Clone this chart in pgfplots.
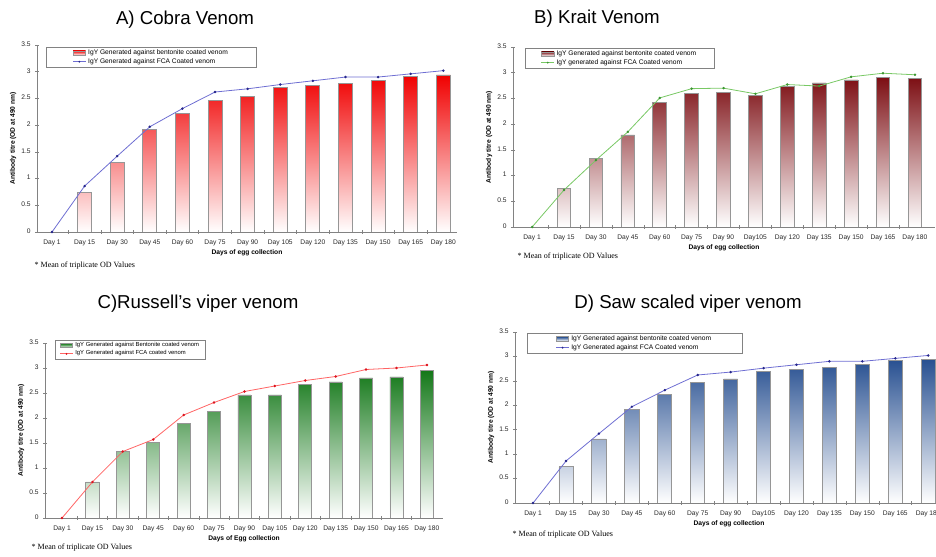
\documentclass[border=0pt]{standalone}
\usepackage{fontspec}
\setmainfont{Liberation Sans}
\newfontfamily\notefont{Liberation Serif}
\usepackage{pgfplots}
\pgfplotsset{compat=1.18}

\definecolor{cobra}{RGB}{240,0,0}
\definecolor{krait}{RGB}{125,15,20}
\definecolor{russ}{RGB}{20,120,25}
\definecolor{saw}{RGB}{40,80,145}
\definecolor{lineA}{RGB}{110,110,210}
\definecolor{markA}{RGB}{40,40,140}
\definecolor{lineB}{RGB}{120,200,100}
\definecolor{markB}{RGB}{60,150,50}
\definecolor{lineC}{RGB}{255,100,100}
\definecolor{markC}{RGB}{220,20,30}
\definecolor{axgray}{RGB}{130,130,130}
\definecolor{bargray}{RGB}{150,150,150}

\newcommand{\fs}[1]{\fontsize{#1}{#1}\selectfont}

\pgfplotsset{
 panel/.style={
  scale only axis, anchor=south west,
  ymin=0, ymax=3.5, ytick={0,0.5,...,3.5},
  xtick={0,...,12}, minor x tick num=1,
  axis lines*=left,
  axis line style={draw=axgray, line width=0.5pt},
  tick align=center, major tick length=2.5pt, minor tick length=2.5pt,
  major x tick style={draw=none},
  minor x tick style={draw=axgray, line width=0.4pt},
  ytick style={draw=axgray, line width=0.4pt},
  /pgf/number format/assume math mode=true,
  typeset ticklabels with strut,
  tick label style={font=\fs{5}, text=black!85},
  xticklabel style={yshift=-1pt},
  xlabel={Days of egg collection},
  ylabel={Antibody titre (OD at 490 nm)},
  label style={font=\bfseries\fs{5}},
  xlabel style={yshift=4.5pt},
  ylabel shift=-3pt,
  legend style={anchor=north west, draw=axgray, line width=0.4pt, font=\fs{5}, cells={anchor=west}, inner ysep=1pt, row sep=0pt, nodes={inner xsep=1.6pt, inner ysep=0.7pt}},
  legend image post style={scale=0.55},
 },
 bars/.style={ybar, bar width=0.43, draw=bargray, line width=0.6pt, bottom color=white, middle color=#1!58!white, top color=#1, area legend},
}

\begin{document}
\begin{tikzpicture}
\clip (0,0) rectangle (702pt,417.75pt);
\useasboundingbox (0,0) rectangle (702pt,417.75pt);

% ---------- A ----------
\node[font=\fs{14}] at (138.75pt,403pt) {A) Cobra Venom};
\begin{axis}[panel, at={(27.75pt,243.75pt)}, width=315pt, height=140.25pt,
  xmin=-0.46, xmax=12.42,
  xticklabels={Day 1,Day 15,Day 30,Day 45,Day 60,Day 75,Day 90,Day 105,Day 120,Day 135,Day 150,Day 165,Day 180},
  legend style={at={(0.021,0.989)}, inner xsep=20pt}]
\addplot[bars=cobra] coordinates {(1,0.74) (2,1.31) (3,1.92) (4,2.22) (5,2.46) (6,2.54) (7,2.70) (8,2.74) (9,2.78) (10,2.84) (11,2.91) (12,2.94)};
\addlegendentry{IgY Generated against bentonite coated venom}
\addplot[lineA, line width=0.6pt, mark=*, mark size=0.6pt, mark options={draw=markA, fill=markA}] coordinates {(0,0) (1,0.86) (2,1.42) (3,1.97) (4,2.31) (5,2.62) (6,2.68) (7,2.76) (8,2.83) (9,2.90) (10,2.90) (11,2.96) (12,3.02)};
\addlegendentry{IgY Generated against FCA Coated venom}
\end{axis}
\node[anchor=west, font=\notefont\fs{6}] at (22.5pt,218.25pt) {* Mean of triplicate OD Values};

% ---------- B ----------
\node[font=\fs{14}] at (447.75pt,403.5pt) {B) Krait Venom};
\begin{axis}[panel, at={(384.75pt,247.5pt)}, width=316.5pt, height=135pt,
  xmin=-0.6, xmax=12.63,
  xticklabels={Day 1,Day 15,Day 30,Day 45,Day 60,Day 75,Day 90,Day105,Day 120,Day 135,Day 150,Day 165,Day 180},
  legend style={at={(0.028,0.994)}, inner xsep=12pt}]
\addplot[bars=krait] coordinates {(1,0.745) (2,1.34) (3,1.79) (4,2.42) (5,2.60) (6,2.61) (7,2.55) (8,2.73) (9,2.80) (10,2.86) (11,2.90) (12,2.89)};
\addlegendentry{IgY Generated against bentonite coated venom}
\addplot[lineB, line width=0.6pt, mark=*, mark size=0.6pt, mark options={draw=markB, fill=markB}] coordinates {(0,0) (1,0.72) (2,1.30) (3,1.85) (4,2.51) (5,2.69) (6,2.70) (7,2.59) (8,2.77) (9,2.74) (10,2.92) (11,2.99) (12,2.96)};
\addlegendentry{IgY generated against FCA Coated venom}
\end{axis}
\node[anchor=west, font=\notefont\fs{6}] at (384.75pt,225pt) {* Mean of triplicate OD Values};

% ---------- C ----------
\node[font=\fs{14}] at (148.5pt,189.75pt) {C)Russell's viper venom};
\begin{axis}[panel, at={(33.75pt,29.25pt)}, width=298.5pt, height=131.25pt,
  xmin=-0.56, xmax=12.53,
  xlabel={Days of Egg collection},
  xticklabels={Day 1,Day 15,Day 30,Day 45,Day 60,Day 75,Day 90,Day 105,Day 120,Day 135,Day 150,Day 165,Day 180},
  legend style={at={(0.025,1.017)}, inner xsep=3.5pt, font=\fs{4.4}}]
\addplot[bars=russ] coordinates {(1,0.72) (2,1.33) (3,1.51) (4,1.89) (5,2.13) (6,2.46) (7,2.46) (8,2.67) (9,2.72) (10,2.80) (11,2.82) (12,2.95)};
\addlegendentry{IgY Generated against Bentonite coated venom}
\addplot[lineC, line width=0.6pt, mark=*, mark size=0.6pt, mark options={draw=markC, fill=markC}] coordinates {(0,0) (1,0.72) (2,1.33) (3,1.57) (4,2.06) (5,2.31) (6,2.53) (7,2.64) (8,2.75) (9,2.83) (10,2.97) (11,3.00) (12,3.06)};
\addlegendentry{IgY Generated against FCA coated venom}
\end{axis}
\node[anchor=west, font=\notefont\fs{6}] at (20.25pt,6.75pt) {* Mean of triplicate OD Values};

% ---------- D ----------
\node[font=\fs{14}] at (516pt,189.75pt) {D) Saw scaled viper venom};
\begin{axis}[panel, at={(386.25pt,40.5pt)}, width=321pt, height=128.25pt,
  xmin=-0.55, xmax=12.45,
  xticklabels={Day 1,Day 15,Day 30,Day 45,Day 60,Day 75,Day 90,Day105,Day 120,Day 135,Day 150,Day 165,Day 180},
  legend style={at={(0.028,0.994)}, inner xsep=21.5pt}]
\addplot[bars=saw] coordinates {(1,0.74) (2,1.31) (3,1.92) (4,2.22) (5,2.46) (6,2.54) (7,2.70) (8,2.74) (9,2.78) (10,2.84) (11,2.91) (12,2.94)};
\addlegendentry{IgY Generated against bentonite coated venom}
\addplot[lineA, line width=0.6pt, mark=*, mark size=0.6pt, mark options={draw=markA, fill=markA}] coordinates {(0,0) (1,0.86) (2,1.42) (3,1.97) (4,2.31) (5,2.62) (6,2.68) (7,2.76) (8,2.83) (9,2.90) (10,2.90) (11,2.96) (12,3.02)};
\addlegendentry{IgY Generated against FCA Coated venom}
\end{axis}
\node[anchor=west, font=\notefont\fs{6}] at (381pt,16.5pt) {* Mean of triplicate OD Values};
\end{tikzpicture}
\end{document}
